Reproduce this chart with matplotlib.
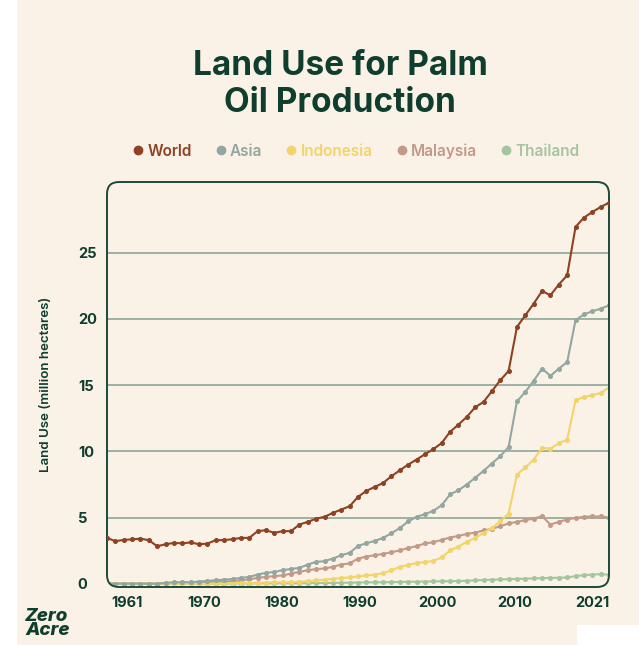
import numpy as np
import matplotlib
matplotlib.use("Agg")
import matplotlib.pyplot as plt
from matplotlib.patches import FancyBboxPatch, Rectangle
from matplotlib.lines import Line2D

# Data (million hectares)
years = np.arange(1961, 2022)

world = [3.46, 3.21, 3.31, 3.35, 3.40, 3.29, 2.83, 2.98, 3.08, 3.05,
         3.12, 2.98, 3.03, 3.29, 3.29, 3.36, 3.46, 3.46, 3.97, 4.04,
         3.84, 3.97, 3.97, 4.47, 4.67, 4.92, 5.05, 5.35, 5.60, 5.85,
         6.56, 7.01, 7.31, 7.61, 8.12, 8.57, 9.00, 9.38, 9.78, 10.16,
         10.63, 11.47, 12.02, 12.60, 13.33, 13.73, 14.54, 15.37, 16.07, 19.40,
         20.28, 21.16, 22.11, 21.79, 22.60, 23.30, 26.95, 27.66, 28.08, 28.46,
         28.79]

asia = [0.0, 0.0, 0.0, 0.0, 0.0, 0.0, 0.0, 0.06, 0.11, 0.11,
        0.11, 0.16, 0.21, 0.26, 0.31, 0.35, 0.44, 0.51, 0.69, 0.82,
        0.89, 1.02, 1.12, 1.19, 1.45, 1.65, 1.70, 1.90, 2.15, 2.33,
        2.85, 3.06, 3.23, 3.46, 3.81, 4.21, 4.70, 5.05, 5.25, 5.50,
        5.93, 6.74, 7.06, 7.49, 8.00, 8.52, 9.08, 9.63, 10.33, 13.78,
        14.49, 15.33, 16.25, 15.70, 16.25, 16.75, 19.90, 20.35, 20.58, 20.78,
        21.03]

indonesia = [0.0, 0.0, 0.0, 0.0, 0.0, 0.0, 0.0, 0.0, 0.0, 0.0,
             0.0, 0.0, 0.0, 0.02, 0.03, 0.05, 0.05, 0.05, 0.07, 0.08,
             0.10, 0.10, 0.12, 0.14, 0.18, 0.25, 0.30, 0.37, 0.42, 0.48,
             0.55, 0.62, 0.69, 0.79, 1.02, 1.27, 1.42, 1.57, 1.62, 1.72,
             1.98, 2.51, 2.81, 3.16, 3.46, 3.84, 4.21, 4.70, 5.30, 8.25,
             8.78, 9.38, 10.26, 10.21, 10.61, 10.89, 13.86, 14.11, 14.24, 14.41,
             14.82]

malaysia = [0.0, 0.0, 0.0, 0.0, 0.0, 0.0, 0.0, 0.03, 0.05, 0.06,
            0.07, 0.09, 0.11, 0.13, 0.16, 0.19, 0.26, 0.32, 0.44, 0.51,
            0.57, 0.62, 0.77, 0.89, 1.02, 1.10, 1.15, 1.27, 1.45, 1.53,
            1.90, 2.05, 2.15, 2.25, 2.38, 2.51, 2.70, 2.83, 3.04, 3.13,
            3.31, 3.49, 3.61, 3.76, 3.86, 4.02, 4.14, 4.34, 4.55, 4.67,
            4.80, 4.92, 5.10, 4.47, 4.67, 4.85, 4.97, 5.05, 5.08, 5.08,
            5.00]

thailand = [0.0, 0.0, 0.0, 0.0, 0.0, 0.0, 0.0, 0.0, 0.0, 0.0,
            0.0, 0.0, 0.0, 0.0, 0.0, 0.01, 0.01, 0.01, 0.02, 0.02,
            0.02, 0.03, 0.03, 0.03, 0.04, 0.05, 0.05, 0.06, 0.07, 0.08,
            0.09, 0.10, 0.10, 0.11, 0.12, 0.13, 0.14, 0.15, 0.16, 0.17,
            0.18, 0.19, 0.20, 0.22, 0.25, 0.28, 0.30, 0.32, 0.34, 0.36,
            0.38, 0.40, 0.42, 0.44, 0.45, 0.47, 0.57, 0.64, 0.69, 0.72,
            0.68]

series_names = ["World", "Asia", "Indonesia", "Malaysia", "Thailand"]
series_colors = ["#8e4221", "#93a7a1", "#f2d46a", "#c29a87", "#a5c5a1"]
year_labels = ["1961", "1970", "1980", "1990", "2000", "2010", "2021"]
y_ticks = [0, 5, 10, 15, 20, 25]

bg = "#faf1e7"
dark = "#0f3d2e"
grid_col = "#8da699"

plt.rcParams['font.family'] = ['Inter', 'DejaVu Sans']

fig = plt.figure(figsize=(6.39, 6.45), dpi=100)
fig.patch.set_facecolor("white")
fig.patches.append(Rectangle((17 / 639, 0), 1 - 17 / 639, 1, transform=fig.transFigure,
                             facecolor=bg, edgecolor="none", zorder=-10))
fig.patches.append(Rectangle((577 / 639, 0), 62 / 639, 20 / 645, transform=fig.transFigure,
                             facecolor="white", edgecolor="none", zorder=-9))

ax = fig.add_axes([107 / 639, 58 / 645, 502 / 639, 405 / 645])
ax.set_facecolor("none")
for s in ax.spines.values():
    s.set_visible(False)

# rounded frame
frame = FancyBboxPatch((0, 0), 1, 1, boxstyle="round,pad=0,rounding_size=0.024",
                       mutation_aspect=502 / 405, transform=ax.transAxes,
                       fill=False, edgecolor="#1d4a3a", linewidth=1.4,
                       clip_on=False, zorder=6)
ax.add_patch(frame)

for v in y_ticks[1:]:
    ax.axhline(v, color=grid_col, linewidth=1.2, zorder=1)

data = [world, asia, indonesia, malaysia, thailand]
for vals, col, z in zip(data[::-1], series_colors[::-1], range(2, 7)):
    ln, = ax.plot(years, vals, color=col, linewidth=1.5, marker="o",
                  markersize=2.6, zorder=z)
    ln.set_clip_path(frame)

ax.set_xlim(1961, 2021)
ax.set_ylim(-0.25, 30.35)
ax.set_xticks([])
ax.set_yticks(y_ticks)
ax.set_yticklabels([str(v) for v in y_ticks])
ax.tick_params(axis="y", length=0, pad=21)
for lab in ax.get_yticklabels():
    lab.set_horizontalalignment("left")
    lab.set_fontsize(10.5)
    lab.set_fontweight("bold")
    lab.set_color(dark)

for xf, lab in zip(np.linspace(0.04, 0.966, len(year_labels)), year_labels):
    ax.text(xf, -0.04, lab, transform=ax.transAxes, ha="center", va="center",
            fontsize=10.5, fontweight="bold", color=dark)

ax.set_ylabel("Land Use (million hectares)", fontsize=9.6, fontweight="semibold",
              color=dark)
ax.yaxis.set_label_coords(-0.11, 0.5)

fig.text(340 / 639, 1 - 66 / 645, "Land Use for Palm", ha="center", va="center",
         fontsize=24, fontweight="bold", color=dark)
fig.text(340 / 639, 1 - 103 / 645, "Oil Production", ha="center", va="center",
         fontsize=24, fontweight="bold", color=dark)

handles = [Line2D([], [], linestyle="none", marker="o", markersize=6,
                  color=c, label=n) for n, c in zip(series_names, series_colors)]
fig.legend(handles=handles, loc="center", bbox_to_anchor=(355 / 639, 1 - 151 / 645),
           ncol=5, frameon=False, handletextpad=0.1, columnspacing=1.4,
           labelcolor=series_colors, prop={"size": 11, "weight": "semibold"},
           handlelength=1.0)

fig.text(25 / 639, 6 / 645, "Zero\nAcre", ha="left", va="bottom", fontsize=13.5,
         fontweight="heavy", fontstyle="italic", color=dark, linespacing=0.8)

plt.savefig("out.png", dpi=100, facecolor=fig.get_facecolor())
